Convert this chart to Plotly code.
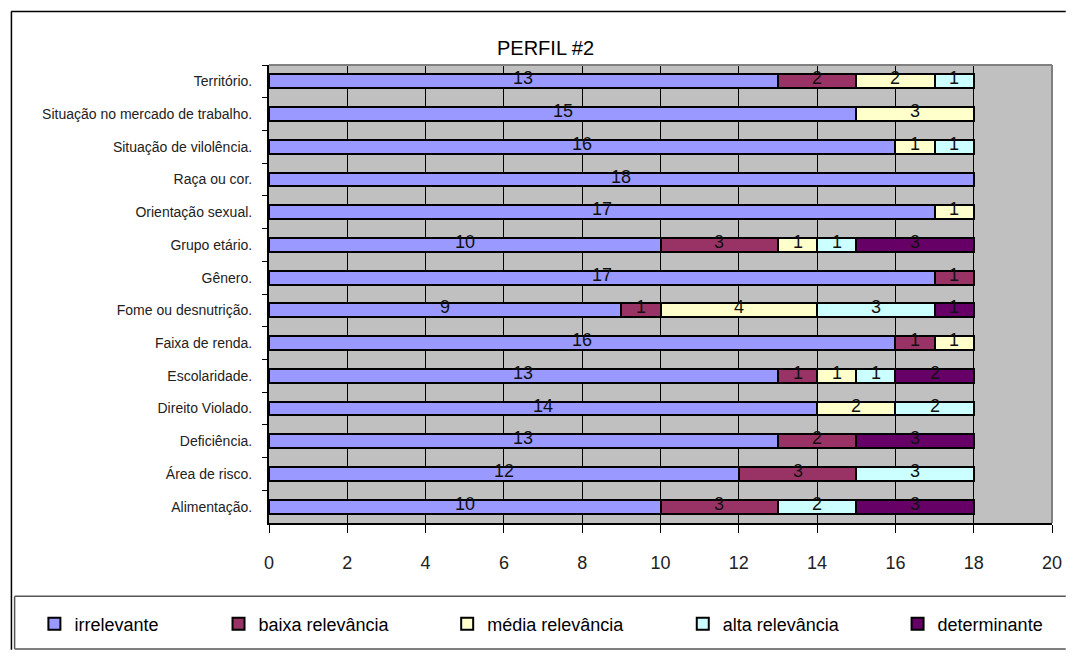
import plotly.graph_objects as go

categories = ["Território.", "Situação no mercado de trabalho.", "Situação de vilolência.",
              "Raça ou cor.", "Orientação sexual.", "Grupo etário.", "Gênero.",
              "Fome ou desnutrição.", "Faixa de renda.", "Escolaridade.", "Direito Violado.",
              "Deficiência.", "Área de risco.", "Alimentação."]
irrelevante = [13, 15, 16, 18, 17, 10, 17, 9, 16, 13, 14, 13, 12, 10]
baixa = [2, 0, 0, 0, 0, 3, 1, 1, 1, 1, 0, 2, 3, 3]
media = [2, 3, 1, 0, 1, 1, 0, 4, 1, 1, 2, 0, 0, 0]
alta = [1, 0, 1, 0, 0, 1, 0, 3, 0, 1, 2, 0, 3, 2]
determinante = [0, 0, 0, 0, 0, 3, 0, 1, 0, 2, 0, 3, 0, 3]
series_names = ["irrelevante", "baixa relevância", "média relevância", "alta relevância", "determinante"]
series_values = [irrelevante, baixa, media, alta, determinante]
series_colors = ["#9999FF", "#993366", "#FFFFCC", "#CCFFFF", "#660066"]
x_ticks = [0, 2, 4, 6, 8, 10, 12, 14, 16, 18, 20]

# the page body has an 8px margin; keep the figure inside the 1074x663 window
OFF = 8
W, H = 1074 - OFF, 663 - 2 * OFF
L, T = 261, 57
pw, ph = 791, 462
R, B = W - L - pw, H - T - ph

def px(x):  # page pixel x -> paper
    return (x - OFF - L) / pw

def py(y):  # page pixel y -> paper
    return (H - B - (y - OFF)) / ph

legend_ids = ["legend", "legend2", "legend3", "legend4", "legend5"]
legend_text_x = [72, 258, 489, 727, 944]

fig = go.Figure()
for name, vals, col, lid in zip(series_names, series_values, series_colors, legend_ids):
    fig.add_trace(go.Bar(
        y=categories, x=vals, name=name, orientation="h", legend=lid,
        marker=dict(color=col, line=dict(color="black", width=2)),
        hoverinfo="x+y+name",
    ))

annotations = []
for i, cat in enumerate(categories):
    start = 0
    for vals in series_values:
        v = vals[i]
        if v > 0:
            annotations.append(dict(
                x=start + v / 2, y=cat, xref="x", yref="y", text=str(v),
                showarrow=False, yshift=3,
                font=dict(family="Liberation Sans, Arial", size=18, color="#111111"),
            ))
        start += v

annotations.append(dict(
    x=px(548), y=py(48), xref="paper", yref="paper", text="PERFIL #2",
    showarrow=False, xanchor="center", yanchor="middle",
    font=dict(family="Liberation Sans, Arial", size=20, color="black"),
))

RIGHT = px(1073.9)
shapes = [
    # outer chart border (top, left)
    dict(type="line", xref="paper", yref="paper", x0=px(8.5), x1=RIGHT, y0=py(11), y1=py(11),
         line=dict(color="black", width=1.5)),
    dict(type="line", xref="paper", yref="paper", x0=px(8.8), x1=px(8.8), y0=py(11), y1=py(654.9),
         line=dict(color="black", width=1.5)),
    # legend box (top, bottom, left)
    dict(type="line", xref="paper", yref="paper", x0=px(12), x1=RIGHT, y0=py(601), y1=py(601),
         line=dict(color="#555555", width=1.5)),
    dict(type="line", xref="paper", yref="paper", x0=px(12), x1=RIGHT, y0=py(654), y1=py(654),
         line=dict(color="#555555", width=1.5)),
    dict(type="line", xref="paper", yref="paper", x0=px(12), x1=px(12), y0=py(601), y1=py(654),
         line=dict(color="#555555", width=1.5)),
    # plot area top/right border
    dict(type="line", xref="paper", yref="paper", x0=0, x1=1, y0=1, y1=1,
         line=dict(color="#808080", width=2)),
    dict(type="line", xref="paper", yref="paper", x0=1, x1=1, y0=0, y1=1,
         line=dict(color="#808080", width=2)),
]

layout_legends = {}
for lid, tx in zip(legend_ids, legend_text_x):
    layout_legends[lid] = dict(
        orientation="h", x=px(tx - 40), y=py(629), xanchor="left", yanchor="middle",
        font=dict(family="Liberation Sans, Arial", size=18, color="black"),
        bgcolor="rgba(0,0,0,0)", itemclick=False, itemdoubleclick=False,
    )

fig.update_layout(
    width=W, height=H,
    margin=dict(l=L, r=R, t=T, b=B),
    barmode="stack", bargap=0.58,
    paper_bgcolor="white", plot_bgcolor="#C0C0C0",
    font=dict(family="Liberation Sans, Arial", color="black"),
    showlegend=True,
    xaxis=dict(
        range=[0, 20], tickvals=x_ticks, ticktext=[str(t) for t in x_ticks],
        showgrid=True, gridcolor="black", gridwidth=1,
        showline=True, linecolor="black", linewidth=2,
        ticks="outside", ticklen=8, tickcolor="black", tickwidth=1,
        tickfont=dict(family="Liberation Sans, Arial", size=18, color="#222222"),
        ticklabelstandoff=14, zeroline=False,
    ),
    yaxis=dict(
        categoryorder="array", categoryarray=categories, autorange="reversed",
        showgrid=False, showline=True, linecolor="black", linewidth=2,
        ticks="outside", ticklen=5, tickcolor="black", tickson="boundaries",
        tickfont=dict(family="Liberation Sans, Arial", size=14, color="#222222"),
        ticklabelstandoff=12,
    ),
    annotations=annotations, shapes=shapes,
    **layout_legends,
)

fig.write_html("out.html", config={"displayModeBar": False})
